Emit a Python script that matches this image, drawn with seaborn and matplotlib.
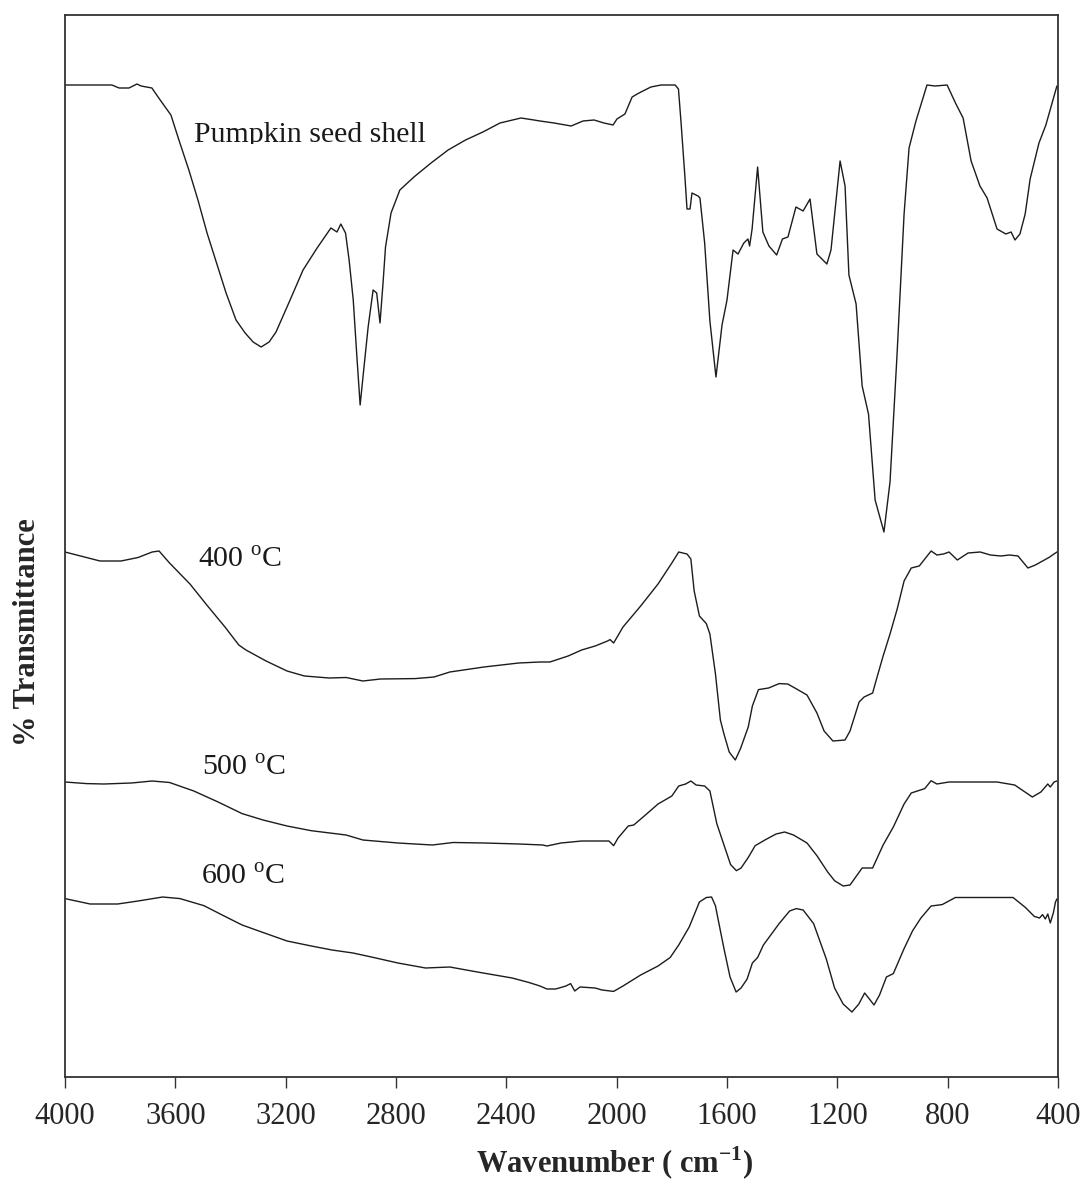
import matplotlib
matplotlib.use("Agg")
import matplotlib.pyplot as plt
from matplotlib.patches import Rectangle
import seaborn as sns
import pandas as pd

# FTIR spectra (wavenumber in cm-1, transmittance in arbitrary offset units)
shell_wn = [4000, 3830, 3804, 3768, 3739, 3724, 3685, 3655, 3616, 3587, 3551, 3518, 3485, 3454, 3416,
            3380, 3347, 3318, 3289, 3260, 3235, 3184, 3137, 3086, 3036, 3014, 3000, 2983, 2970, 2955,
            2941, 2930, 2916, 2901, 2883, 2870, 2858, 2847, 2838, 2818, 2786, 2735, 2673, 2611, 2548,
            2485, 2423, 2347, 2300, 2278, 2227, 2165, 2122, 2082, 2046, 2013, 1999, 1970, 1944, 1919,
            1876, 1839, 1788, 1776, 1767, 1752, 1745, 1734, 1727, 1705, 1698, 1681, 1662, 1640, 1618,
            1600, 1578, 1560, 1539, 1524, 1518, 1509, 1489, 1470, 1448, 1420, 1399, 1379, 1350, 1324,
            1299, 1274, 1238, 1223, 1190, 1172, 1158, 1132, 1110, 1087, 1063, 1031, 1009, 984, 958,
            940, 915, 875, 846, 802, 770, 744, 715, 683, 657, 621, 589, 570, 556, 538,
            519, 501, 469, 444, 404]
shell_t = [992, 992, 989, 989, 993, 991, 989, 977, 962, 937, 907, 877, 844, 817, 784,
           757, 744, 735, 730, 735, 745, 777, 807, 829, 849, 845, 853, 844, 817, 777,
           717, 672, 710, 750, 787, 784, 754, 794, 830, 864, 887, 900, 914, 927, 937,
           945, 954, 959, 957, 956, 954, 951, 956, 957, 954, 952, 958, 963, 980, 984,
           990, 992, 992, 988, 956, 898, 868, 868, 884, 881, 879, 834, 756, 700, 752,
           777, 827, 823, 834, 838, 831, 848, 910, 845, 831, 822, 838, 840, 870, 866,
           878, 823, 813, 827, 916, 891, 802, 773, 691, 663, 577, 545, 595, 720, 863,
           929, 956, 992, 991, 992, 973, 959, 916, 891, 879, 848, 843, 845, 837, 843,
           863, 898, 934, 952, 991]

c400_wn = [4000, 3873, 3797, 3735, 3684, 3659, 3621, 3547, 3483, 3420, 3370, 3344, 3271, 3195, 3132,
           3043, 2981, 2920, 2856, 2731, 2662, 2605, 2481, 2355, 2278, 2242, 2176, 2127, 2078, 2033,
           2024, 2011, 1977, 1913, 1850, 1800, 1775, 1745, 1731, 1719, 1700, 1675, 1662, 1642, 1624,
           1611, 1592, 1570, 1551, 1523, 1508, 1486, 1449, 1411, 1380, 1354, 1310, 1274, 1248, 1216,
           1172, 1154, 1121, 1103, 1072, 1060, 1034, 1009, 983, 958, 932, 903, 860, 839, 815,
           795, 765, 726, 682, 645, 607, 576, 545, 509, 482, 433, 404]
c400_t = [525, 516, 516, 519.5, 525, 526, 514, 493, 471, 450, 432, 427, 416, 406, 401,
          399, 399.5, 396, 398, 398.4, 400, 405, 410, 414, 415, 415, 421, 427, 431, 436,
          437.4, 434, 450, 471, 493, 514, 525, 523, 518, 486, 461, 453.4, 443, 403.4, 357,
          343, 325, 317, 328.4, 350, 371, 387.4, 389, 393.4, 393, 389, 382, 364, 346, 336,
          337, 346, 375, 380, 384, 396, 421, 443, 468, 496, 509, 511, 526, 522, 523,
          525, 517, 524, 525, 522, 521, 522, 521, 509, 512, 519.5, 525]

c500_wn = [4000, 3922, 3859, 3759, 3684, 3621, 3533, 3445, 3358, 3282, 3195, 3107, 2981, 2920, 2793,
           2731, 2668, 2593, 2480, 2354, 2268, 2253, 2202, 2127, 2028, 2011, 1995, 1958, 1938, 1900,
           1850, 1800, 1775, 1750, 1731, 1712, 1681, 1662, 1637, 1611, 1587, 1566, 1549, 1523, 1498,
           1460, 1422, 1391, 1359, 1310, 1274, 1235, 1210, 1179, 1154, 1110, 1072, 1034, 997, 958,
           932, 883, 860, 839, 795, 708, 621, 557, 525, 493, 462, 437, 428, 414, 404]
c500_t = [295, 293.4, 293, 294, 296, 294.5, 286, 275, 263.4, 257, 251, 246.3, 242, 237, 234,
          233, 232, 234.5, 234, 233, 232, 231, 234, 236, 236, 231.3, 239, 251, 252, 261,
          273, 281, 291, 293, 296, 292, 291, 286, 253.4, 232, 212.4, 206.3, 209, 219.5, 231.3,
          237.4, 243, 245, 242, 234, 221.3, 205, 196.3, 191, 192, 209, 209, 232, 250, 273,
          284, 288.4, 296.3, 293, 295, 295, 295, 292, 286, 280, 285, 293, 290, 295, 296]

c600_wn = [4000, 3909, 3809, 3735, 3646, 3583, 3496, 3433, 3358, 3282, 3195, 3107, 3032, 2956, 2881,
           2793, 2693, 2605, 2505, 2379, 2318, 2278, 2253, 2221, 2184, 2167, 2152, 2133, 2078, 2053,
           2011, 1977, 1913, 1850, 1806, 1775, 1737, 1700, 1675, 1656, 1642, 1624, 1611, 1589, 1567,
           1549, 1527, 1508, 1489, 1468, 1411, 1373, 1349, 1324, 1286, 1240, 1210, 1179, 1147, 1122,
           1101, 1085, 1067, 1047, 1022, 997, 958, 927, 897, 860, 820, 772, 721, 645, 563,
           518, 486, 467, 456, 446, 437, 428, 417, 409, 404]
c600_t = [178.4, 173, 173, 176, 180, 178.4, 171.3, 162.4, 152, 144.5, 136, 131, 127, 124, 119.5,
          114, 109, 110, 105, 99, 94.5, 91, 88, 88, 91, 93.4, 86, 90, 89, 87,
          85.6, 91, 102, 111, 119.5, 132, 150, 175, 179.5, 180, 171.3, 146.3, 128.4, 100, 85,
          89, 98, 114, 119.5, 132, 153.4, 166, 168.4, 167, 153.4, 118, 89, 73, 65, 73,
          84, 78.4, 72, 82, 100, 103.4, 128.4, 146.3, 159, 171, 172.4, 179.5, 179.5, 179.5, 179.5,
          169.5, 160.6, 159, 162.4, 158, 163, 154, 164, 175, 178]

labels = ["Pumpkin seed shell", "400 $^{\\mathrm{o}}$C", "500 $^{\\mathrm{o}}$C", "600 $^{\\mathrm{o}}$C"]
label_wn = [3532, 3518, 3503, 3507]
label_t = [935, 509, 301, 192]
xticks = [4000, 3600, 3200, 2800, 2400, 2000, 1600, 1200, 800, 400]

sns.set_style("white")
plt.rcParams["font.family"] = ["Liberation Serif", "DejaVu Serif"]
plt.rcParams["mathtext.fontset"] = "custom"
plt.rcParams["mathtext.rm"] = "Liberation Serif"
plt.rcParams["mathtext.bf"] = "Liberation Serif:bold"

fig = plt.figure(figsize=(10.83, 11.94), dpi=100)
ax = fig.add_axes([65 / 1083, 1 - 1077 / 1194, 993 / 1083, 1062 / 1194])

spectra = [(shell_wn, shell_t), (c400_wn, c400_t), (c500_wn, c500_t), (c600_wn, c600_t)]
for wn, t in spectra:
    df = pd.DataFrame({"wn": wn, "t": t})
    sns.lineplot(data=df, x="wn", y="t", ax=ax, color="#1c1c1c", linewidth=1.0,
                 estimator=None, sort=False)

ax.set_xlim(4000, 400)
ax.set_ylim(0, 1062)
ax.set_xticks(xticks)
ax.set_xticklabels([str(v) for v in xticks])
ax.set_yticks([])
ax.set_xlabel("")
ax.set_ylabel("")
ax.tick_params(axis="x", direction="out", length=8, width=1.0, color="#333333",
               labelsize=22, pad=10, bottom=True)
for sp in ax.spines.values():
    sp.set_color("#333333")
    sp.set_linewidth(1.3)

for i, lab in enumerate(labels):
    txt = ax.text(label_wn[i], label_t[i], lab, fontsize=21.5, ha="left", va="baseline", color="#1a1a1a")
    if i == 0:
        # the original label is cut off just under its baseline
        clip = Rectangle((3600, label_t[i] - 2), -1000, 200, transform=ax.transData)
        txt.set_clip_on(True)
        txt.set_clip_path(clip)

fig.text(28 / 1083, 1 - 632 / 1194, "% Transmittance", rotation=90, ha="center", va="center",
         fontsize=22, fontweight="bold")
fig.text(615 / 1083, 1 - 1163 / 1194, "Wavenumber ( cm$^{\\mathbf{-1}}$)", ha="center", va="center",
         fontsize=22, fontweight="bold")

plt.savefig("out.png", dpi=100)
